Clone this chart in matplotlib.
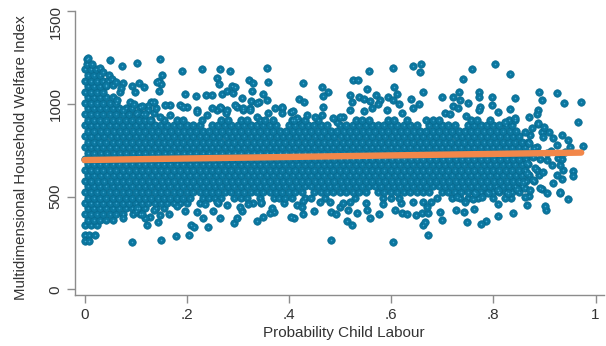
import matplotlib
matplotlib.use("Agg")
import matplotlib.pyplot as plt
import numpy as np

plt.rcParams['font.family'] = ['Liberation Sans', 'DejaVu Sans']

# dense core of the cloud, read row by row (welfare level -> probabilities)
core_y = [345, 376, 404, 436, 465, 494, 526, 555, 586, 614, 645, 676, 704, 736,
          765, 795, 824, 856, 884, 915, 944, 976, 1004, 1036, 1065, 1096, 1124,
          1156, 1185, 1216, 1244]
core_x = [
    [0, .012, .025],
    [.006, .018, .031, .043, .056],
    [0, .012, .025, .037, .05, .062, .075, .095, .108],
    [.006, .018, .031, .043, .056, .068, .081, .093, .106, .118, .14, .155],
    [0, .012, .025, .037, .05, .062, .075, .087, .1, .112, .125, .137, .15, .162, .175,
     .187, .2, .225, .262, .33, .345, .39, .55, .62],
    [.006, .018, .031, .043, .056, .068, .081, .093, .106, .118, .131, .143, .156, .168,
     .181, .193, .206, .231, .243, .256, .268, .293, .306, .318, .343, .37, .381, .393,
     .406, .431, .443, .47, .53, .585, .6, .615, .69, .72, .735, .75, .77, .8, .835],
    [0, .012, .025, .037, .05, .062, .075, .087, .1, .112, .125, .137, .15, .162, .175,
     .187, .2, .212, .225, .237, .25, .262, .275, .287, .3, .312, .325, .337, .35, .362,
     .375, .387, .4, .412, .425, .45, .462, .475, .487, .5, .512, .525, .537, .55, .575,
     .587, .6, .612, .625, .637, .65, .662, .675, .7, .712, .725, .737, .75, .762, .775,
     .787, .8, .812, .825, .837, .85],
    [.006, .018, .031, .043, .056, .068, .081, .093, .106, .118, .131, .143, .156, .168,
     .181, .193, .206, .218, .231, .243, .256, .268, .281, .293, .306, .318, .331, .343,
     .356, .368, .381, .393, .406, .418, .431, .443, .456, .468, .481, .493, .506, .518,
     .531, .543, .556, .568, .581, .593, .606, .618, .631, .643, .656, .668, .681, .693,
     .706, .718, .731, .743, .756, .768, .781, .793, .806, .818, .831, .843, .856],
    [.001, .013, .026, .038, .051, .063, .076, .088, .101, .113, .126, .138, .151, .163,
     .176, .188, .201, .213, .226, .238, .251, .263, .276, .288, .301, .313, .326, .338,
     .351, .363, .376, .388, .401, .413, .426, .438, .451, .463, .476, .488, .501, .513,
     .526, .538, .551, .563, .576, .588, .601, .613, .626, .638, .651, .663, .676, .688,
     .701, .713, .726, .738, .751, .763, .776, .788, .801, .813, .826, .838, .851, .863,
     .88],
    [.007, .019, .032, .044, .057, .069, .082, .094, .107, .119, .132, .144, .157, .169,
     .182, .194, .207, .219, .232, .244, .257, .269, .282, .294, .307, .319, .332, .344,
     .357, .369, .382, .394, .407, .419, .432, .444, .457, .469, .482, .494, .507, .519,
     .532, .544, .557, .569, .582, .594, .607, .619, .632, .644, .657, .669, .682, .694,
     .707, .719, .732, .744, .757, .769, .782, .794, .807, .819, .832, .844, .857, .869,
     .89],
    [0, .012, .025, .037, .05, .062, .075, .087, .1, .112, .125, .137, .15, .162, .175,
     .187, .2, .212, .225, .237, .25, .262, .275, .287, .3, .312, .325, .337, .35, .362,
     .375, .387, .4, .412, .425, .437, .45, .462, .475, .487, .5, .512, .525, .537, .55,
     .562, .575, .587, .6, .612, .625, .637, .65, .662, .675, .687, .7, .712, .725, .737,
     .75, .762, .775, .787, .8, .812, .825, .837, .85, .862, .885],
    [.006, .018, .031, .043, .056, .068, .081, .093, .106, .118, .131, .143, .156, .168,
     .181, .193, .206, .218, .231, .243, .256, .268, .281, .293, .306, .318, .331, .343,
     .356, .368, .381, .393, .406, .418, .431, .443, .456, .468, .481, .493, .506, .518,
     .531, .543, .556, .568, .581, .593, .606, .618, .631, .643, .656, .668, .681, .693,
     .706, .718, .731, .743, .756, .768, .781, .793, .806, .818, .831, .843, .856, .868],
    [.001, .013, .026, .038, .051, .063, .076, .088, .101, .113, .126, .138, .151, .163,
     .176, .188, .201, .213, .226, .238, .251, .263, .276, .288, .301, .313, .326, .338,
     .351, .363, .376, .388, .401, .413, .426, .438, .451, .463, .476, .488, .501, .513,
     .526, .538, .551, .563, .576, .588, .601, .613, .626, .638, .651, .663, .676, .688,
     .701, .713, .726, .738, .751, .763, .776, .788, .801, .813, .826, .838, .851, .863,
     .892],
    [.007, .019, .032, .044, .057, .069, .082, .094, .107, .119, .132, .144, .157, .169,
     .182, .194, .207, .219, .232, .244, .257, .269, .282, .294, .307, .319, .332, .344,
     .357, .369, .382, .394, .407, .419, .432, .444, .457, .469, .482, .494, .507, .519,
     .532, .544, .557, .569, .582, .594, .607, .619, .632, .644, .657, .669, .682, .694,
     .707, .719, .732, .744, .757, .769, .782, .794, .807, .819, .832, .844, .857, .869],
    [0, .012, .025, .037, .05, .062, .075, .087, .1, .112, .125, .137, .15, .162, .175,
     .187, .2, .212, .225, .237, .25, .262, .275, .287, .3, .312, .325, .337, .35, .362,
     .375, .387, .4, .412, .425, .437, .45, .462, .475, .487, .5, .512, .525, .537, .55,
     .562, .575, .587, .6, .612, .625, .637, .65, .662, .675, .687, .7, .712, .725, .737,
     .75, .762, .775, .787, .8, .812, .825, .837, .85, .862, .886],
    [.006, .018, .031, .043, .056, .068, .081, .093, .106, .118, .131, .143, .156, .168,
     .181, .193, .206, .218, .231, .243, .256, .268, .281, .293, .306, .318, .331, .343,
     .356, .368, .381, .393, .406, .418, .431, .443, .456, .468, .481, .493, .506, .518,
     .531, .543, .556, .568, .581, .593, .606, .618, .631, .643, .656, .668, .681, .693,
     .706, .718, .731, .743, .756, .768, .781, .793, .806, .818, .831, .843, .856, .868],
    [.001, .013, .026, .038, .051, .063, .076, .088, .101, .113, .126, .138, .151, .163,
     .176, .188, .201, .213, .226, .238, .251, .263, .276, .288, .301, .313, .326, .338,
     .351, .363, .376, .388, .401, .413, .426, .438, .451, .463, .476, .488, .501, .513,
     .526, .538, .551, .563, .576, .588, .601, .613, .626, .638, .651, .663, .676, .688,
     .701, .713, .726, .738, .751, .763, .776, .788, .801, .813, .826, .838, .851],
    [.007, .019, .032, .044, .057, .069, .082, .094, .107, .119, .132, .144, .157, .169,
     .182, .194, .207, .219, .232, .244, .257, .269, .282, .294, .307, .319, .332, .344,
     .357, .369, .382, .394, .407, .419, .432, .444, .457, .469, .482, .494, .507, .519,
     .532, .544, .557, .569, .582, .594, .607, .619, .632, .644, .657, .669, .682, .694,
     .707, .719, .732, .744, .757, .769, .782, .794, .807, .819, .832, .844],
    [0, .012, .025, .037, .05, .062, .075, .087, .1, .112, .125, .137, .15, .162, .175,
     .187, .2, .212, .225, .25, .262, .275, .287, .3, .312, .325, .337, .35, .362, .375,
     .4, .412, .425, .437, .45, .462, .475, .5, .512, .525, .537, .55, .562, .575, .587,
     .6, .612, .625, .637, .65, .675, .687, .7, .712, .725, .75, .762, .775, .787, .8,
     .812, .825, .837],
    [.006, .018, .031, .043, .056, .068, .081, .093, .106, .118, .131, .156, .181, .193,
     .268, .281, .306, .318, .343, .368, .406, .418, .431, .456, .531, .543, .556, .593,
     .606, .631, .668, .681, .693, .756, .768, .793, .831, .843],
    [0, .012, .025, .037, .05, .062, .075, .087, .1, .112],
    [.006, .018, .031, .043, .056, .068, .081, .093],
    [0, .012, .025, .037, .05, .062],
    [.006, .018, .031, .043, .056],
    [0, .012, .025, .037],
    [.006, .018, .031, .043],
    [0, .012, .025, .037, .045],
    [.006, .018, .031],
    [0, .012, .022],
    [.004, .014],
    [.004],
]

# scattered dots above the core
upper_x = [.006, .049, .073, .103, .148, .151, .146, .149, .145, .190, .230, .265, .285,
           .259, .263, .321, .329, .358, .360, .030, .037, .047, .053, .043, .056, .076,
           .092, .107, .116, .069, .099, .197, .218, .238, .249, .270, .278, .291, .288,
           .295, .309, .327, .325, .350, .357, .342, .089, .109, .131, .125, .167, .187,
           .200, .220, .239, .259, .268, .277, .298, .311, .324, .337, .353, .229, .148,
           .167, .128, .102, .063, .076, .062, .072, .142, .097, .112, .125, .135, .140,
           .118, .135, .158, .193, .220, .249, .265, .278, .295, .311, .324, .337, .360,
           .386, .405, .415, .435, .451, .464, .494, .506,
           .427, .464, .477, .467, .466, .420, .430, .373, .386, .407, .386, .525, .536,
           .557, .603, .643, .658, .657, .552, .520, .523, .537, .547, .559, .570, .578,
           .575, .593, .603, .606, .612, .616, .639, .655, .662, .699, .722, .733, .721,
           .705, .715, .642, .621, .591, .562, .546, .520, .500, .487, .409,
           .803, .759, .833, .741, .772, .735, .771, .797, .842, .889, .924, .895, .938,
           .971, .750, .731, .773, .797, .809, .833, .747, .771, .869, .888, .886, .843,
           .823, .965, .888]
upper_y = [1245, 1234, 1201, 1218, 1241, 1155, 1124, 1106, 1068, 1176, 1185, 1185, 1176,
           1137, 1106, 1128, 1113, 1194, 1119, 1191, 1172, 1155, 1131, 1101, 1101, 1110,
           1095, 1110, 1092, 1065, 1065, 1052, 1041, 1047, 1047, 1052, 1068, 1059, 1095,
           1092, 1029, 1068, 1016, 1052, 1020, 1011, 1011, 984, 1011, 988, 993, 993,
           984, 966, 939, 966, 975, 948, 984, 966, 975, 930, 912, 912, 930,
           939, 912, 948, 1020, 966, 1117, 1085, 1117, 1000, 990, 965, 950, 975,
           945, 1011, 993, 984, 957, 975, 984, 966, 993, 975, 966, 1002, 948,
           975, 957, 921, 939, 930, 939, 903, 930,
           1110, 1092, 1065, 1041, 981, 1024, 1011, 975, 984, 962, 948, 1128, 1128,
           1178, 1194, 1205, 1212, 1171, 1078, 1047, 1011, 1035, 1024, 1016, 1047, 1020,
           998, 1038, 1020, 1092, 1052, 998, 1025, 998, 1065, 1035, 1035, 1065, 988,
           948, 945, 975, 948, 966, 975, 962, 966, 930, 921, 912,
           1214, 1185, 1160, 1131, 1063, 1020, 1035, 1038, 1032, 1063, 1056, 1020, 1002,
           1009, 1002, 975, 981, 993, 957, 970, 935, 966, 930, 966, 945, 921,
           903, 900, 890]

# scattered dots below the core
lower_x = [0, .009, .021, 0, .009, .093, .150, .179, .205, .208, .214, .242, .231, .265,
           .293, .298, .337, .349, .165, .122, .144, .128, .118, .148, .076, .197, .220,
           .252, .308, .304, .278, .100, .113, .135, .102, .180, .235, .260, .320, .345,
           .482, .604, .672, .663, .666, .699, .695, .513, .523, .409, .404, .428, .450,
           .482, .492, .500, .516, .534, .553, .559, .576, .607, .621, .632, .649, .660,
           .672, .428, .415, .425, .370, .362, .366, .461, .506, .584, .643, .663, .679,
           .670, .520, .480,
           .903, .839, .809, .786, .775, .748, .763, .727, .743, .761, .809, .823, .869,
           .862, .895, .930, .777, .745, .728, .764, .790, .810, .829, .846]
lower_y = [293, 293, 293, 258, 258, 255, 265, 289, 291, 346, 337, 337, 386, 383,
           359, 383, 368, 391, 406, 346, 364, 391, 383, 400, 383, 424, 418,
           424, 424, 445, 454, 420, 405, 430, 440, 450, 460, 470, 460, 470,
           266, 253, 293, 346, 364, 373, 418, 370, 345, 383, 391, 406, 424,
           418, 404, 442, 427, 413, 427, 383, 406, 427, 409, 404, 400, 413,
           413, 477, 454, 445, 418, 409, 436, 472, 467, 460, 472, 472, 472,
           445, 472, 472,
           427, 413, 397, 370, 352, 363, 434, 427, 418, 485, 460, 490, 503,
           544, 539, 520, 499, 472, 499, 520, 520, 535, 517, 539]

# thinner tail of the cloud near the right end
tail_x = [.955, .955, .947, .901, .865, .862, .905, .930, .891, .872, .917, .934, .924,
          .937, .898, .878, .859, .914, .930, .927, .905, .947, .950, .934, .917, .908,
          .895, .898, .872, .862, .924, .905, .878, .865, .882, .865, .880, .912, .940,
          .870, .935, .888, .875, .900, .975]
tail_y = [639, 610, 485, 449, 454, 499, 517, 526, 544, 535, 571, 593, 616,
          643, 634, 589, 580, 670, 670, 706, 697, 804, 768, 831, 813, 849,
          849, 822, 831, 849, 777, 733, 714, 679, 652, 625, 760, 745, 740,
          790, 700, 894, 870, 875, 772]

# linear fit
fit_x = [0.0, 0.972]
fit_y = [697, 737]

xs = [x for row in core_x for x in row] + upper_x + lower_x + tail_x
ys = ([y for y, row in zip(core_y, core_x) for _ in row]
      + upper_y + lower_y + tail_y)

fig = plt.figure(figsize=(6.06, 3.46), dpi=100)
ax = fig.add_axes([0.1238, 0.146, 0.8729, 0.8222])

ax.scatter(xs, ys, s=29, c='#0b77a0', edgecolors='#08698f', linewidths=0.5, zorder=2)
ax.scatter(xs, ys, s=1.2, c='#45a8d2', linewidths=0, zorder=3)
ax.plot(fit_x, fit_y, color='#f2874a', lw=4.6, solid_capstyle='round', zorder=4)

ax.set_xlim(-0.0186, 1.0166)
ax.set_ylim(-33, 1500)

ax.set_xticks([0, .2, .4, .6, .8, 1])
ax.set_xticklabels(['0', '.2', '.4', '.6', '.8', '1'])
ax.set_yticks([0, 500, 1000, 1500])
# top label is pulled down inside the figure, as in the original
ax.set_yticklabels(['0', '500', '1000', ''], rotation=90, va='center')
ax.annotate('1500', xy=(0, 1500), xycoords=('axes fraction', 'data'),
            xytext=(-9, 4), textcoords='offset points', rotation=90,
            ha='right', va='top', fontsize=11, color='#333333')

for side in ['top', 'right']:
    ax.spines[side].set_visible(False)
for side in ['left', 'bottom']:
    ax.spines[side].set_color('#8c8c8c')
    ax.spines[side].set_linewidth(1.0)
ax.tick_params(colors='#8c8c8c', labelcolor='#333333', length=6, width=1.0,
               labelsize=11, pad=3)

ax.set_xlabel('Probability Child Labour', fontsize=11, color='#333333')
ax.xaxis.set_label_coords(0.508, -0.108)
ax.set_ylabel('Multidimensional Household Welfare Index', fontsize=10.8,
              color='#333333')
ax.yaxis.set_label_coords(-0.088, 0.483)

fig.savefig('out.png', dpi=100)
